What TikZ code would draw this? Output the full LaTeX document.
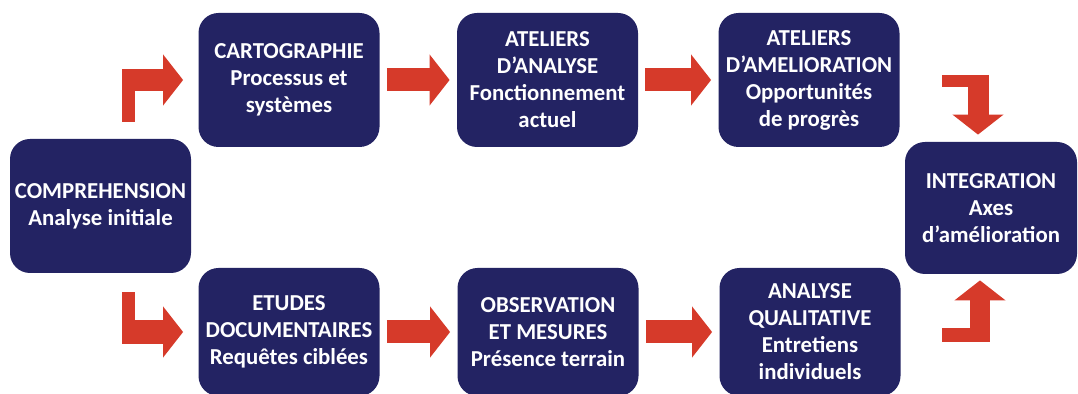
\documentclass[tikz,border=0pt]{standalone}
\usepackage{fontspec}
\setmainfont{Carlito}
\usetikzlibrary{calc}
\usetikzlibrary{arrows.meta}
\definecolor{boxblue}{RGB}{35,35,99}
\definecolor{arrowred}{RGB}{214,58,42}

\begin{document}
\begin{tikzpicture}[x=0.5pt,y=-0.5pt,>={Triangle[length=10pt,width=25pt,color=arrowred]},
	  block arrow/.style={->,draw=arrowred,line width=11.5pt,shorten <=3.5pt,shorten >=3.5pt},
	  main node/.style={rectangle,rounded corners=10pt,fill=boxblue,text=white,align=center,
	    font=\bfseries\fontsize{11.4}{13.5}\selectfont,minimum width=90.5pt,minimum height=67pt,inner sep=1pt}]

	  \useasboundingbox (0,0) rectangle (1078,394);

	  \node[main node] (comp) at (100.5,206) {COMPREHENSION\\Analyse initiale};
	  \node[main node] (carto) at (289,80) {CARTOGRAPHIE\\Processus et\\systèmes};
	  \node[main node] (atelA) at (547.5,80) {ATELIERS\\D’ANALYSE\\Fonctionnement\\actuel};
	  \node[main node] (atelB) at (809,80) {ATELIERS\\D’AMELIORATION\\Opportunités\\de progrès};
	  \node[main node, minimum width=86pt, minimum height=66pt] (integ) at (991,208) {INTEGRATION\\Axes\\d’amélioration};
	  \node[main node, minimum height=64pt] (etudes) at (289,332) {ETUDES\\DOCUMENTAIRES\\Requêtes ciblées};
	  \node[main node, minimum height=64pt] (obs) at (548,332) {OBSERVATION\\ET MESURES\\Présence terrain};
	  \node[main node, minimum height=64pt] (qual) at (810,332) {ANALYSE\\QUALITATIVE\\Entretiens\\individuels};

	  % bent arrows out of COMPREHENSION
	  \coordinate (tl) at (122,122);
	  \coordinate (bl) at (122,292);
	  \fill[arrowred] (tl) rectangle ($(tl |- carto.west)+(13,-11)$);
	  \draw[block arrow,shorten <=0pt,shorten >=7.5pt,line width=11pt] (tl |- carto.west) -- (carto.west);
	  \fill[arrowred] (bl) rectangle ($(bl |- etudes.west)+(13,12)$);
	  \draw[block arrow,shorten <=0pt,shorten >=7.5pt,line width=12pt] (bl |- etudes.west) -- (etudes.west);

	  % bent arrows into INTEGRATION
	  \coordinate (tr) at (978,75);
	  \coordinate (br) at (980,342);
	  \fill[arrowred] ($(tr)+(-36,0)$) rectangle ($(tr)+(10.5,12)$);
	  \draw[block arrow,shorten <=0pt,shorten >=3.5pt,line width=10.5pt] (tr) -- (tr |- integ.north);
	  \fill[arrowred] ($(br)+(-38,0)$) rectangle ($(br)+(10,-14)$);
	  \draw[block arrow,shorten <=0pt,shorten >=3pt,line width=10pt] (br) -- (br |- integ.south);

	  \path[block arrow]
	  	(carto) edge (atelA)
	  	(atelA) edge (atelB)
	  	(etudes) edge (obs)
	  	(obs) edge (qual);
	\end{tikzpicture}
\end{document}
